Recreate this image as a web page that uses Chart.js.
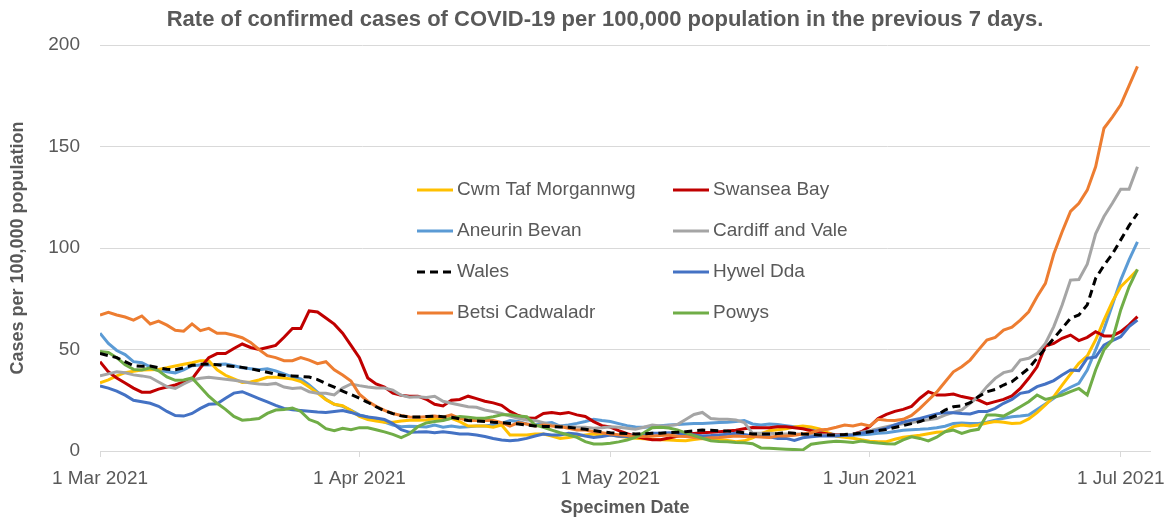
<!DOCTYPE html>
<html>
<head>
<meta charset="utf-8">
<script src="https://cdn.jsdelivr.net/npm/chart.js@4.4.0/dist/chart.umd.min.js"></script>
<style>
html,body{margin:0;padding:0;background:#ffffff;}
#wrap{width:1170px;height:520px;position:relative;}
</style>
</head>
<body>
<div id="wrap"><canvas id="c" width="1170" height="520"></canvas></div>
<script>
// ---------- DATA ----------
const chartTitle = 'Rate of confirmed cases of COVID-19 per 100,000 population in the previous 7 days.';
const xAxisTitle = 'Specimen Date';
const yAxisTitle = 'Cases per 100,000 population';
const startDate = '2021-03-01';           // first specimen date (day 0)
const tickDates = ['2021-03-01','2021-04-01','2021-05-01','2021-06-01','2021-07-01'];
const tickLabels = ['1 Mar 2021','1 Apr 2021','1 May 2021','1 Jun 2021','1 Jul 2021'];
const yTicks = [0, 50, 100, 150, 200];

const seriesNames = ['Cwm Taf Morgannwg','Swansea Bay','Aneurin Bevan','Cardiff and Vale','Wales','Hywel Dda','Betsi Cadwaladr','Powys'];

const cwmTaf = [33.6,35,37,38.6,39.3,39.9,40,40.2,41,41.9,
42.7,43.5,44.5,44.5,40,37.3,35.5,33.8,34,35,
36.3,36.3,36,35.4,34.2,31.5,28.5,25.3,23,22.3,
20,17,15.5,14.8,14.2,14.2,14.8,15.2,15.2,15.3,
16,15.3,16.1,14.5,12.3,12.3,12.3,11.7,12.8,7.9,
7.9,7.9,8.4,8.4,7.4,6.2,6.7,7.4,7.9,8.4,
7.8,8,7.3,6.8,6.3,6,5.8,5.6,5.4,5.2,
5,5.6,6.2,6,5.7,5.2,4.6,5,6.5,8.5,
10,10.5,11,11.8,12.3,11.8,10.9,9,7.3,6.8,
6.3,5.5,4.8,4.6,4.6,5.8,6.8,7.3,7.8,8.5,
9.2,9.5,12,12.8,12.3,12.8,13.8,14.5,14.2,13.5,
13.8,15.8,18.9,22.7,26.8,32.5,37.9,43.2,46.8,54.7,
64.5,73.5,80.9,85,89.2];

const swanseaBay = [44,39,36,33.5,31,29,29,30.5,31.5,32.5,
34,35.5,41,46,48,48,50.5,52.7,51,50,
51,52,56,60.4,60.4,69,68.5,65.5,62.5,58,
52,46,36,33,31.5,28.5,27.5,27,27,25.5,
23,22.2,25,25.4,27,25.8,24.5,23.7,22.5,19.5,
17.5,16.2,16.1,18.5,19,18.3,19,17.8,17,14.5,
12.5,11.8,10,8.5,7.3,6.3,5.5,5.6,6.4,7.3,
8.2,8.6,9,9.2,9.5,9.8,10.2,11,11.6,11.5,
11.5,12,12,11.5,11,10,9,8.4,8,8,
8.3,9.5,12,16,18,19.5,20.5,22,26,29.2,
27.6,27.6,28.1,26.8,26,25.1,23.2,24.3,25.4,27.1,
30.8,35.8,41.5,51.7,53,55.5,57.1,54.4,56,58.8,
56.7,56.7,58.8,62.1,66.2];

const aneurinBevan = [58,53,49.5,47.5,44,43.5,41.5,40,39,38.5,
40,42,42.4,42.4,42.6,42.9,42,41,40.5,40,
40.5,39.5,38,36.5,35.5,32.5,29,25.5,23,22,
20,17.8,16.8,15.5,14.3,12.8,12,12.2,12.1,11.8,
12.8,11.7,12.3,11.7,12,12.3,12.3,12.8,13.6,15,
14.5,13.3,12.8,13.6,14,12.3,12.8,13.6,14.5,15.6,
15,14.5,13.5,12.5,11.8,11.7,12,12.4,12.8,13,
13.3,13.5,13.6,13.8,14,14.2,14.5,15,13.3,12.8,
13.3,13,12.5,12,11.5,10.5,9.5,8.6,8,7.9,
7.9,8,8.3,8.7,9,9.6,10.2,10.5,10.7,11,
11.5,12.2,13.5,13.8,13.5,13.5,14.2,15.2,16.1,16.9,
17.2,17.7,20.5,23.2,26,29.2,31.4,33.3,39.9,49.8,
60,71.9,84.2,94.1,103];

const cardiffVale = [37,38,39,38.5,37.5,37,36.3,34,31.7,30.8,
33,35,35.8,36.3,35.8,35.3,34.8,34.2,33.5,33,
32.8,33.3,31.5,30.8,31.2,29.2,28.4,28.4,27.6,31,
33,32.2,31.5,31,31,30,27.5,26.5,26.7,26.4,
27,24.5,23.5,22.7,21.8,21.5,20.2,19.4,18.5,17.2,
16.1,15.3,15,14,12.8,12.3,12,11.8,11.7,11.2,
11.5,12,11.7,11.2,10.7,11.7,12.8,12.3,12.5,13,
15.5,18,19,16,15.6,15.6,15.3,14,8.7,8.7,
8.7,8.5,8.4,8.4,8.4,8.2,8,7.9,7.9,8,
8.3,9.3,10,11,12,12.8,13.4,14,14.8,15.4,
16,17.7,19,20.2,23.5,26.8,31.7,35.8,38.6,39.6,
44.8,45.7,48.1,53,61.3,71.9,84.2,84.5,92,107,
115.5,122,129,129,140];

const wales = [48,47,46,44,42,41.7,41.9,41,40.3,40,
41,42.2,42.7,42.9,42.5,42,41.6,41.2,40.5,39.7,
38.8,37.8,37.2,37,36.7,36.4,35.2,33.2,31.5,29.5,
27.8,26,24,21.8,19.8,18.4,17.3,16.8,16.7,17,
17.2,16.9,16.6,15.8,15,14.8,14.5,14.2,14,13.6,
13.3,12.8,12.3,12.1,12,11.8,11.7,11.2,10.7,10.1,
9.4,9,8.8,8.6,8.4,8.5,8.7,8.8,9,9.2,
9.5,9.9,10.3,10.2,10,9.8,9.5,9,8.4,8.4,
8.4,8.6,9,8.7,8.4,8.2,7.9,7.9,7.9,8.1,
8.4,8.9,9.5,10.1,10.6,11.6,12.5,13.5,14.5,16,
17.5,20.2,21.8,22.2,23.8,26.8,29.2,30.3,32.5,34.2,
37.4,40.7,45.7,50.6,55.5,60.4,65.4,67,72,85,
91.5,97,104,111,117];

const hywelDda = [32,31,29.5,27.5,25,24.3,23.5,22,19.5,17.5,
17.2,18.5,21,23,23.3,26,28.5,29.2,27.5,25.8,
24.2,22.5,21,20.3,20,19.6,19.2,19,19.5,19.9,
19,17.6,16.8,16.3,15.5,13.5,10.5,9.2,9.3,9.5,
9,9.5,9,8.4,8.4,7.9,7.1,6.2,5.4,5,
5.4,6.2,7.4,8.4,7.9,7.9,8.7,8.4,7.4,6.7,
7.1,7.9,7.3,7.2,7.8,8.3,8.7,8.8,9,8.7,
8.4,7.9,7.4,7.6,7.9,8.3,8.7,8.1,7.4,7.2,
7,6.2,6.2,5.2,6.5,7,7.4,7.4,7.4,7.6,
7.9,8.7,9.4,10.3,11.2,12.8,14.3,15.2,16,17.2,
18.3,18.9,18.9,18.5,18.2,19.4,19.4,21,23.5,25.4,
28.4,29.2,31.7,33,34.7,37.4,39.9,39.6,45.7,46.2,
52.2,54.4,56.3,61.3,64.5];

const betsiCadwaladr = [67,68.3,67,66,64.5,66.5,62.6,64,62,59.5,
59,62.6,59.3,60.4,58,58,57,55.8,53.5,50,
47,46,44.5,44.5,46,44.8,43,44,40,37.4,
34.5,28,24.5,22,20,18.5,17.5,16.8,16.6,16.9,
17.2,16.6,17.8,16.1,15,15,15,15,14,12.3,
14,13.3,12.3,12.8,12.3,12,11.2,10.3,10.3,9.5,
9,8.4,8,7.6,7.1,7.2,7.4,7.6,7.9,7.3,
7.1,6.6,6.2,6.5,6.7,7,7.4,7.2,7.1,6.9,
6.7,7.4,7.4,7.8,8.4,9,10.3,10.7,11.7,12.8,
12.3,13.3,12.3,15.6,15.2,15,15.6,17.5,21,25,
29,34,39,41.5,44.8,49.8,54.7,56,59.6,61,
64.5,68.6,76,82.6,97,108,118,122,128.5,140,
159,164.5,170.5,180,189.5];

const powys = [49,48.5,46,42.5,40.2,39.9,41,39.5,36.5,34.8,
35,36,31.5,27,23.5,20.5,17,15.2,15.5,16,
18.5,20.2,20.5,21.2,19.5,15.5,14,11,10,11.2,
10.5,11.5,11.4,10.5,9.4,8.2,6.6,8.5,12,13.8,
14.5,15,16.1,17,16.6,16.1,16.1,16.9,17.8,17.8,
17.2,16.9,12.8,11.7,10.3,9,7.9,6.7,4.6,3.5,
3.5,3.8,4.5,5.4,6.7,9,11.5,11.7,11.3,10.4,
8.9,7.6,6.3,5.1,4.7,4.6,4.2,4.1,3.6,1.5,
1.3,1.1,0.9,0.7,0.5,3.3,3.9,4.4,4.8,4.6,
4.2,4.9,4.3,3.9,3.6,3.5,5.5,7,6.2,5,
6.8,9.5,10.3,8.7,10,10.7,17.7,17.7,17.2,19.4,
21.8,24.3,27.6,25.4,26.4,27.6,29.2,30.8,27.6,39.9,
49.8,54.7,69.5,80.9,89.5];

// ---------- STYLE ----------
const FONT = "'Liberation Sans', Arial, sans-serif";
const TEXT = '#595959';
const GRID = '#d9d9d9';
const seriesData = [cwmTaf, swanseaBay, aneurinBevan, cardiffVale, wales, hywelDda, betsiCadwaladr, powys];
const seriesColors = ['#FFC000','#C00000','#5B9BD5','#A5A5A5','#000000','#4472C4','#ED7D31','#70AD47'];
const seriesDash = [[],[],[],[],[8,5],[],[],[]];
const seriesOrder = [6,5,7,4,0,3,2,1];

const DAY = 86400000;
const dayOf = d => Math.round((Date.parse(d) - Date.parse(startDate)) / DAY);
const tickDays = tickDates.map(dayOf);

const datasets = seriesNames.map((name, i) => ({
  label: name,
  data: seriesData[i].map((v, k) => ({x: k, y: v})),
  borderColor: seriesColors[i],
  backgroundColor: seriesColors[i],
  borderWidth: 3,
  borderDash: seriesDash[i],
  pointRadius: 0,
  tension: 0,
  fill: false,
  order: seriesOrder[i]
}));

const titlePlugin = {
  id: 'topTitle',
  afterDraw(chart, args, o) {
    const ctx = chart.ctx;
    ctx.save();
    ctx.font = `bold ${o.size}px ${FONT}`;
    ctx.fillStyle = TEXT;
    ctx.textAlign = 'center';
    ctx.textBaseline = 'middle';
    ctx.fillText(chartTitle, o.x, o.y);
    ctx.restore();
  }
};

const gridLegend = {
  id: 'gridLegend',
  afterDraw(chart, args, o) {
    const ctx = chart.ctx;
    ctx.save();
    ctx.font = `${o.size}px ${FONT}`;
    ctx.textBaseline = 'middle';
    chart.data.datasets.forEach((ds, i) => {
      const x = o.colX[i % 2], y = o.rowY[Math.floor(i / 2)];
      ctx.strokeStyle = ds.borderColor;
      ctx.lineWidth = 3;
      ctx.setLineDash(ds.borderDash || []);
      ctx.beginPath(); ctx.moveTo(x, y); ctx.lineTo(x + 36, y); ctx.stroke();
      ctx.setLineDash([]);
      ctx.fillStyle = TEXT;
      ctx.fillText(ds.label, x + 40, y);
    });
    ctx.restore();
  }
};

new Chart(document.getElementById('c'), {
  type: 'line',
  data: { datasets },
  plugins: [titlePlugin, gridLegend],
  options: {
    responsive: false,
    animation: false,
    devicePixelRatio: 1,
    layout: { padding: { top: 45, right: 20, left: 0, bottom: 0 } },
    plugins: {
      legend: { display: false },
      title: { display: false },
      tooltip: { enabled: false },
      topTitle: { x: 605, y: 20, size: 22 },
      gridLegend: { size: 19, colX: [417, 673], rowY: [190, 231, 272, 313] }
    },
    scales: {
      x: {
        type: 'linear',
        min: 0,
        max: 125.5,
        afterBuildTicks: s => { s.ticks = tickDays.map(v => ({ value: v })); },
        afterFit: s => { s.height = 69; s.paddingLeft = 0; s.paddingRight = 0; },
        ticks: {
          autoSkip: false, maxRotation: 0, minRotation: 0,
          color: TEXT, font: { family: FONT, size: 19 }, padding: 10,
          callback: v => tickLabels[tickDays.indexOf(v)]
        },
        grid: { drawOnChartArea: false, drawTicks: true, tickLength: 6, color: GRID },
        border: { display: true, color: GRID },
        title: { display: true, text: xAxisTitle, color: TEXT,
                 font: { family: FONT, size: 18, weight: 'bold' }, padding: { top: 4, bottom: 1 } }
      },
      y: {
        min: yTicks[0],
        max: yTicks[yTicks.length - 1],
        afterBuildTicks: s => { s.ticks = yTicks.map(v => ({ value: v })); },
        afterFit: s => { s.width = 100; s.paddingTop = 0; s.paddingBottom = 0; },
        ticks: { color: TEXT, font: { family: FONT, size: 19 }, padding: 20 },
        grid: { color: GRID, drawTicks: false },
        border: { display: false },
        title: { display: true, text: yAxisTitle, color: TEXT,
                 font: { family: FONT, size: 18, weight: 'bold' }, padding: { top: 7, bottom: 0 } }
      }
    }
  }
});
</script>
</body>
</html>
